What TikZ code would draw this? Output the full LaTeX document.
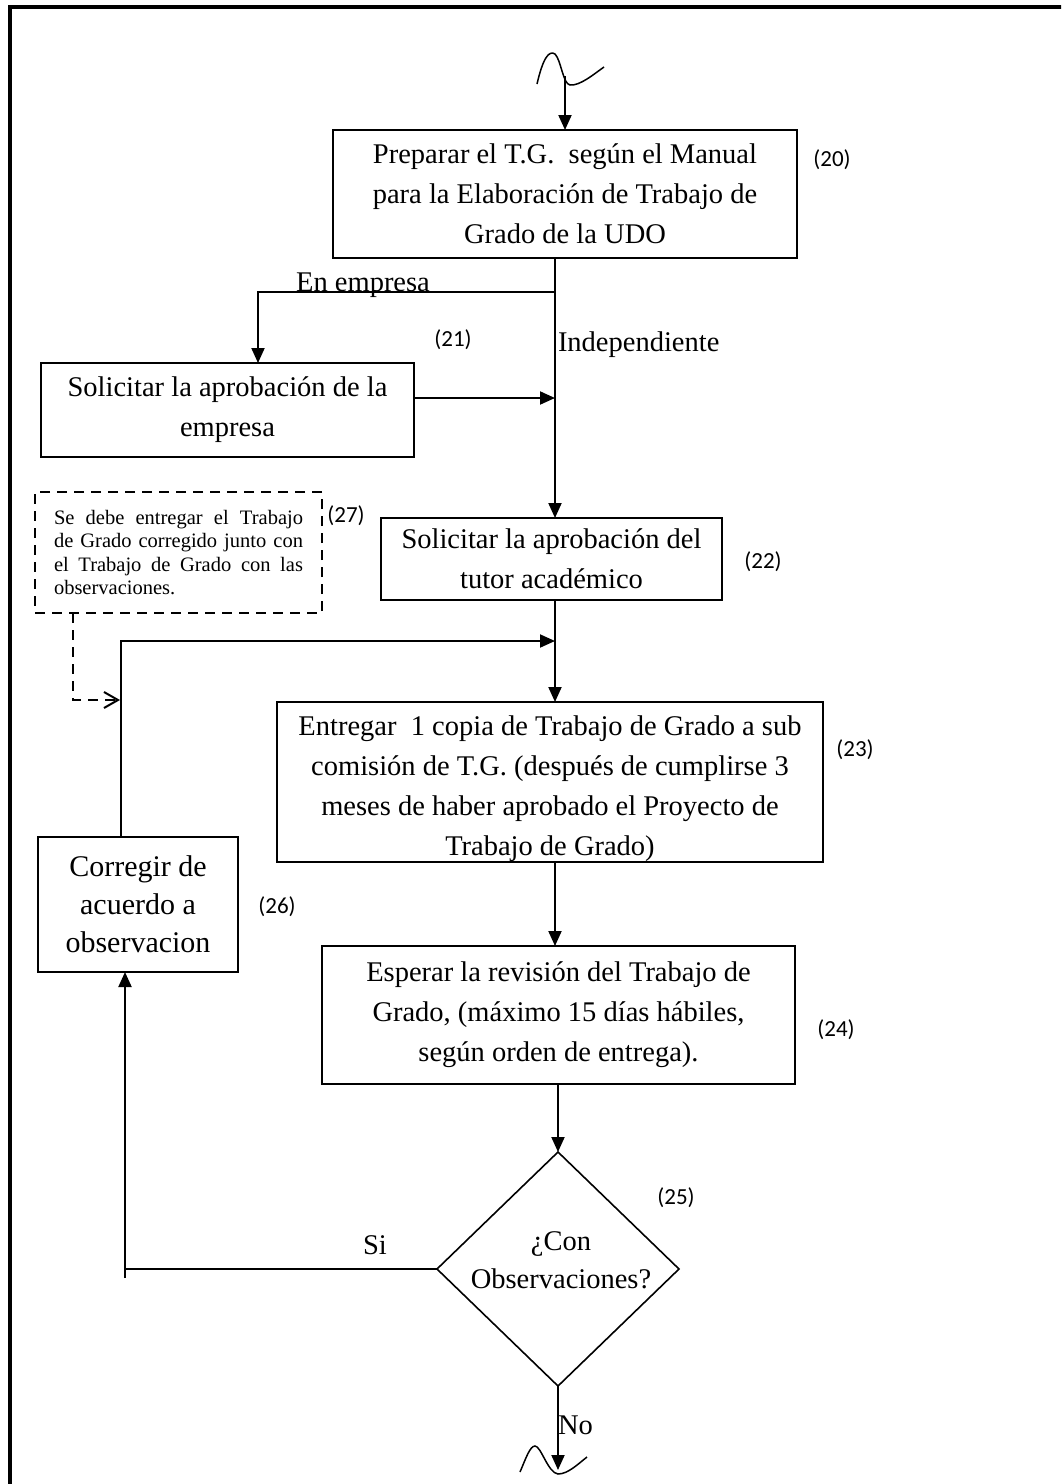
\documentclass[tikz,border=0pt]{standalone}
\usepackage{fontspec}
\setmainfont{Liberation Serif}
\newfontfamily\numfont{Carlito}
\usetikzlibrary{arrows.meta,shapes.geometric,calc}

\begin{document}
\begin{tikzpicture}[x=1pt,y=-1pt,
  every node/.style={inner sep=0pt, outer sep=0pt},
  stepbox/.style={draw, line width=1.8pt, rectangle, align=center,
    font=\fontsize{28.5}{40}\selectfont},
  notebox/.style={draw, line width=1.6pt, dash pattern=on 10pt off 7pt,
    text width=249pt, inner xsep=19pt, align=justify,
    font=\fontsize{20.5}{23.5}\selectfont},
  tag/.style={font=\numfont\fontsize{23}{26}\selectfont},
  lbl/.style={font=\fontsize{28.5}{32}\selectfont},
  link/.style={line width=2pt},
  flow/.style={line width=2pt, -{Triangle[length=15pt,width=13pt]}},
  hint/.style={line width=1.6pt, dash pattern=on 10pt off 7pt,
    -{Straight Barb[length=14pt,width=16pt,line width=2pt]}},
  wave/.style={line width=1.5pt},
]
\useasboundingbox (0,0) rectangle (1061,1484);
\clip (0,0) rectangle (1061,1484);

% page frame
\draw[line width=4pt] (9.5,1500) -- (9.5,6.7) -- (1080,6.7);

% process boxes
\node[stepbox, minimum width=464pt, minimum height=128pt] (b20) at (565,194)
  {Preparar el T.G.\ \ según el Manual\\para la Elaboración de Trabajo de\\Grado de la UDO};
\node[stepbox, minimum width=373pt, minimum height=94pt] (b21) at (227.5,410)
  {Solicitar la aprobación de la\\empresa};
\node[stepbox, minimum width=341pt, minimum height=82pt] (b22) at (551.5,559)
  {Solicitar la aprobación del\\tutor académico};
\node[stepbox, minimum width=546pt, minimum height=160pt] (b23) at (550,782) {};
\node[stepbox, draw=none] (t23) at (550,789)
  {Entregar\ \ 1 copia de Trabajo de Grado a sub\\comisión de T.G. (después de cumplirse 3\\meses de haber aprobado el Proyecto de\\Trabajo de Grado)};
\node[stepbox, minimum width=473pt, minimum height=138pt] (b24) at (558.5,1015)
  {Esperar la revisión del Trabajo de\\Grado, (máximo 15 días hábiles,\\según orden de entrega).};
\node[stepbox, minimum width=200pt, minimum height=135pt,
  font=\fontsize{30}{38}\selectfont] (b26) at (138,904.5)
  {Corregir de\\acuerdo a\\observacion};
\node[notebox, minimum height=121pt] (b27) at (178.5,552.5)
  {Se debe entregar el Trabajo\linebreak de Grado corregido junto con\linebreak el Trabajo de Grado con las\linebreak observaciones.};

% decision
\node[draw, diamond, line width=1.6pt, minimum width=242pt, minimum height=234pt] (d) at (558,1269) {};
\node[align=center, font=\fontsize{28.5}{38}\selectfont] (dtext) at (561,1260) {¿Con\\Observaciones?};

% step numbers
\node[tag] (n20) at (832,160) {(20)};
\node[tag] (n21) at (453,340) {(21)};
\node[tag] (n22) at (763,562) {(22)};
\node[tag] (n23) at (855,750) {(23)};
\node[tag] (n24) at (836,1030) {(24)};
\node[tag] (n25) at (676,1198) {(25)};
\node[tag] (n26) at (277,907) {(26)};
\node[tag] (n27) at (346,516) {(27)};

% junction points
\coordinate (t0) at (565,76);
\coordinate (j1) at (555,292);
\coordinate (k1) at (258,292);
\coordinate (j2) at (555,398);
\coordinate (j3) at (555,641);
\coordinate (l1) at (121,641);
\coordinate (m1) at (73,700);
\coordinate (m2) at (120,700);
\coordinate (c1) at (558,0);
\coordinate (s1) at (125,1278);
\coordinate (e1) at (558,1470);

% entry connector with its break mark
\draw[wave] (537,84) .. controls (543,58) and (549,50) .. (555,54)
  .. controls (561,60) and (563,84) .. (570,85)
  .. controls (580,86) and (594,74) .. (604,67);
\draw[flow] (t0) -- (t0 |- b20.north);

% main line and branch
\draw[link] (b20.south -| j1) -- (j1) -- (j2);
\draw[flow] (j2) -- (b22.north -| j1);
\draw[flow] (j1) -- (k1) -- (k1 |- b21.north);
\draw[flow] (b21.east |- j2) -- (j2);
\draw[flow] (b22.south -| j1) -- (b23.north -| j1);
\draw[flow] (b23.south -| j1) -- (b24.north -| j1);
\draw[flow] (b24.south -| c1) -- (d.north);

% return loop
\draw[flow] (b26.north -| l1) -- (l1) -- (j3);
\draw[hint] (b27.south -| m1) -- (m1) -- (m2);
\draw[link] (d.west) -- (d.west -| s1);
\draw[flow] (s1) -- (s1 |- b26.south);

% exit connector with its break mark
\draw[flow] (d.south) -- (e1);
\draw[wave] (520,1472) .. controls (526,1458) and (530,1446) .. (535,1446)
  .. controls (541,1446) and (548,1473) .. (558,1474)
  .. controls (568,1474) and (578,1464) .. (587,1457);

% branch labels
\node[lbl, anchor=base] (le) at (363,291) {En empresa};
\node[lbl, anchor=west] (li) at (558,345) {Independiente};
\node[lbl] (ls) at (375,1245) {Si};
\node[lbl, anchor=base west] (ln) at (558,1434) {No};
\end{tikzpicture}
\end{document}
